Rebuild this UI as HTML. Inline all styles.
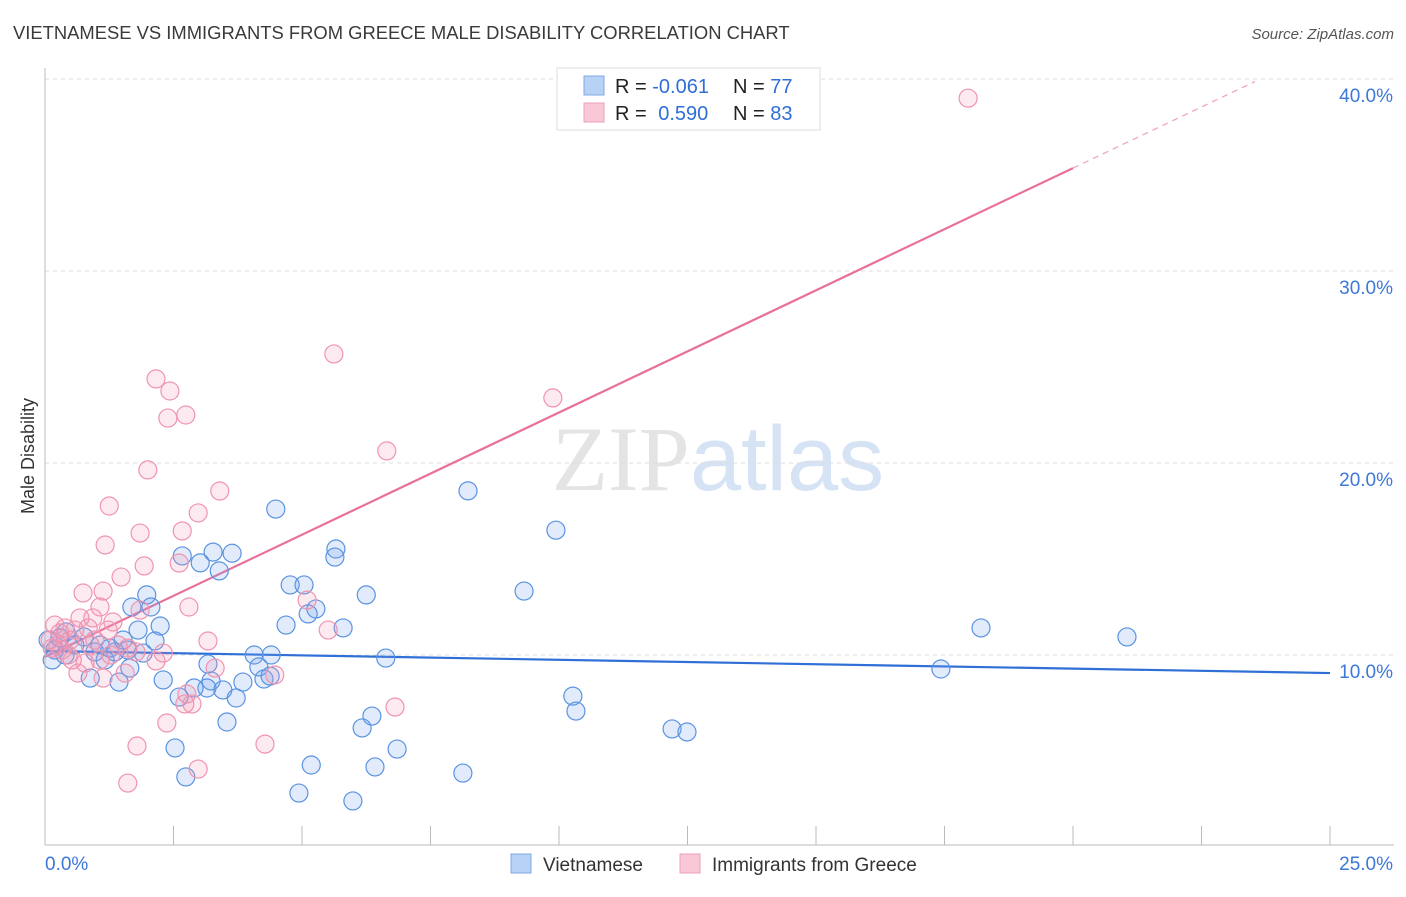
<!DOCTYPE html>
<html><head><meta charset="utf-8">
<style>
body{margin:0;background:#fff;font-family:"Liberation Sans",sans-serif;}
svg text{font-family:"Liberation Sans",sans-serif;}
</style></head>
<body>
<svg id="chart" width="1406" height="892" viewBox="0 0 1406 892" xmlns="http://www.w3.org/2000/svg">
<text x="13" y="39" font-size="18.4" fill="#3a3a3a">VIETNAMESE VS IMMIGRANTS FROM GREECE MALE DISABILITY CORRELATION CHART</text>
<text x="1394" y="39" font-size="15" fill="#555" text-anchor="end" font-style="italic">Source: ZipAtlas.com</text>
<text x="718" y="490" font-size="92" text-anchor="middle"><tspan fill="#e4e4e4" font-family="Liberation Serif">ZIP</tspan><tspan fill="#d6e3f4">atlas</tspan></text>
<text transform="translate(34,456) rotate(-90)" font-size="18" fill="#333" text-anchor="middle">Male Disability</text>
<g id="grid"></g>
<g id="trends"></g>
<g id="dots"></g>
<g id="axes"></g>
<g>
<rect x="557" y="68" width="263" height="62" fill="#fff" stroke="#ddd"/>
<rect x="584" y="76" width="20" height="19" fill="#b8d2f5" stroke="#7fa9e6"/>
<rect x="584" y="103" width="20" height="19" fill="#f9c8d7" stroke="#f0a0b8"/>
<text x="615" y="93" font-size="20" fill="#222">R = <tspan fill="#2f6fd6">-0.061</tspan></text>
<text x="733" y="93" font-size="20" fill="#222">N = <tspan fill="#2f6fd6">77</tspan></text>
<text x="615" y="120" font-size="20" fill="#222">R = <tspan fill="#2f6fd6" dx="6">0.590</tspan></text>
<text x="733" y="120" font-size="20" fill="#222">N = <tspan fill="#2f6fd6">83</tspan></text>
</g>
<g>
<rect x="511" y="854" width="20" height="19" fill="#b8d2f5" stroke="#7fa9e6"/>
<text x="543" y="871" font-size="19" fill="#333">Vietnamese</text>
<rect x="680" y="854" width="20" height="19" fill="#f9c8d7" stroke="#f0a0b8"/>
<text x="712" y="871" font-size="19" fill="#333">Immigrants from Greece</text>
</g>
</svg>
<script>
const xTicks=[0,2.5,5,7.5,10,12.5,15,17.5,20,22.5,25];
const yTicks=[10,20,30,40];
const yTickLabels=["10.0%","20.0%","30.0%","40.0%"];
const xEndLabels=["0.0%","25.0%"];
const blueX=[4.49,8.23,9.94,3.64,3.27,2.67,3.02,3.39,5.66,5.64,4.77,5.04,9.32,6.25,1.98,1.69,2.06,5.27,5.12,4.69,5.8,2.24,1.81,18.21,21.05,0.41,0.76,0.06,2.14,1.07,1.61,1.36,1.91,4.07,4.4,6.63,3.17,4.16,1.65,17.43,0.88,1.44,2.3,4.26,4.38,3.23,3.85,3.15,2.9,3.46,2.61,3.72,10.27,10.33,6.36,3.54,6.17,12.2,12.49,2.53,6.85,5.18,6.42,8.13,2.74,4.94,5.99,0.19,0.39,0.58,0.97,1.17,0.29,0.14,1.26,1.52];
const blueY=[17.6,18.55,16.5,15.3,15.36,15.16,14.8,14.38,15.52,15.1,13.65,13.65,13.33,13.13,13.13,12.5,12.5,12.4,12.14,11.56,11.41,11.51,11.3,11.41,10.94,11.2,10.94,10.78,10.73,10.52,10.26,10.16,10.1,10.0,10.0,9.84,9.53,9.38,9.32,9.27,8.8,8.59,8.7,8.75,8.9,8.65,8.59,8.28,8.28,8.18,7.81,7.76,7.86,7.08,6.82,6.51,6.2,6.15,5.99,5.16,5.1,4.27,4.17,3.85,3.65,2.81,2.4,10.26,10.0,10.52,10.16,9.74,10.89,9.74,10.36,10.78];
const pinkX=[17.96,5.62,2.16,2.43,2.39,2.74,9.88,6.65,2.0,3.4,1.25,2.98,1.85,2.67,1.17,2.61,1.93,1.48,1.13,0.74,1.07,2.8,1.85,5.1,0.93,0.68,1.32,0.19,0.39,0.58,0.29,0.1,0.49,5.51,3.17,0.88,1.42,1.61,1.28,1.77,2.3,1.07,0.78,0.53,2.16,3.31,0.64,1.56,1.13,4.47,2.76,2.72,2.86,6.81,2.37,1.79,4.28,2.98,1.61,0.25,0.33,0.45,0.14,0.97,1.23,0.84];
const pinkY=[39.0,25.68,24.38,23.75,22.34,22.5,23.39,20.63,19.64,18.54,17.76,17.4,16.35,16.46,15.73,14.79,14.64,14.06,13.33,13.23,12.5,12.5,12.34,12.86,11.93,11.93,11.72,11.56,11.41,11.3,11.15,10.78,10.78,11.3,10.73,10.52,10.52,10.36,10.0,10.16,10.1,9.74,9.58,9.74,9.69,9.32,9.06,9.06,8.8,8.96,7.97,7.45,7.45,7.29,6.46,5.26,5.36,4.06,3.33,10.52,10.26,10.0,10.36,10.78,11.3,11.41];
const blueTrend=[10.21,-0.046];
const pinkTrend=[9.9,1.273];
const pinkSolidEnd=20.0, pinkDashEnd=23.54;

const NS="http://www.w3.org/2000/svg";
const X0=45,X1=1330,Y0=847,PPY=19.2;
function sx(v){return X0+(X1-X0)*v/25;}
function sy(v){return Y0-v*PPY;}
function mk(tag,attrs,parent){const e=document.createElementNS(NS,tag);for(const k in attrs)e.setAttribute(k,attrs[k]);document.getElementById(parent).appendChild(e);return e;}

yTicks.forEach((t,i)=>{
  const l=mk('line',{x1:45,x2:1394,y1:sy(t),y2:sy(t),stroke:'#dedede','stroke-dasharray':'4,4'},'grid');
  
  
  const tx=mk('text',{x:1393,y:sy(t)+23,'font-size':19,fill:'#3c78d8','text-anchor':'end'},'axes');
  tx.textContent=yTickLabels[i];
  
  
});
const ax=mk('line',{x1:45,x2:1394,y1:845,y2:845,stroke:'#bbb'},'axes');


const ay=mk('line',{x1:45,x2:45,y1:68,y2:845,stroke:'#bbb'},'axes');


xTicks.forEach((t,i)=>{
  if(i===0)return;
  const l=mk('line',{x1:sx(t),x2:sx(t),y1:826,y2:845,stroke:'#bbb'},'axes');
  
  
});
const xl0=mk('text',{x:45,y:870,'font-size':19,fill:'#3c78d8'},'axes');
xl0.textContent=xEndLabels[0];


const xl1=mk('text',{x:1393,y:870,'font-size':19,fill:'#3c78d8','text-anchor':'end'},'axes');
xl1.textContent=xEndLabels[1];



blueX.forEach((x,i)=>{
  const c=mk('circle',{cx:sx(x),cy:sy(blueY[i]),r:9,fill:'rgba(120,165,235,0.22)',stroke:'#5a93e0','stroke-width':1.2},'dots');
  
  
});
pinkX.forEach((x,i)=>{
  const c=mk('circle',{cx:sx(x),cy:sy(pinkY[i]),r:9,fill:'rgba(245,150,180,0.2)',stroke:'#ef94b0','stroke-width':1.2},'dots');
  
  
});
const bt=mk('line',{x1:sx(0),y1:sy(blueTrend[0]),x2:sx(25),y2:sy(blueTrend[0]+blueTrend[1]*25),stroke:'#2f6fd6','stroke-width':2.2},'trends');


const pt=mk('line',{x1:sx(0),y1:sy(pinkTrend[0]),x2:sx(pinkSolidEnd),y2:sy(pinkTrend[0]+pinkTrend[1]*pinkSolidEnd),stroke:'#e8709a','stroke-width':2.2},'trends');


const pd=mk('line',{x1:sx(pinkSolidEnd),y1:sy(pinkTrend[0]+pinkTrend[1]*pinkSolidEnd),x2:sx(pinkDashEnd),y2:sy(pinkTrend[0]+pinkTrend[1]*pinkDashEnd),stroke:'#f0a0b8','stroke-width':1.2,'stroke-dasharray':'6,5'},'trends');


</script>
</body></html>
